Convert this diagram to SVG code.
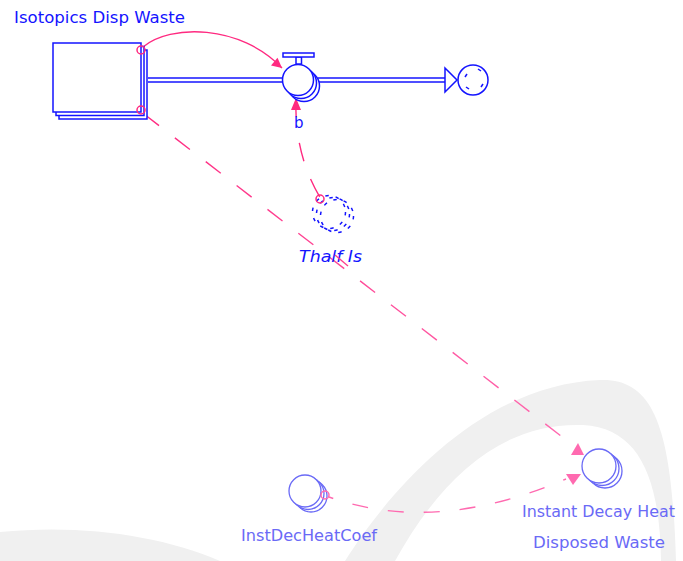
<svg xmlns="http://www.w3.org/2000/svg" width="683" height="561" viewBox="0 0 683 561">
  <defs>
    <style>
      .lbl { font-family: "DejaVu Sans", "Liberation Sans", sans-serif; font-size: 15px; }
      .blue { fill: #1414ff; }
      .pale { fill: #6a6af6; }
      .box { fill: #ffffff; stroke: #1414ff; stroke-width: 1.5; }
      .conv { fill: #ffffff; stroke: #6a6af6; stroke-width: 1.3; }
      .ghost { fill: none; stroke: #1414ff; stroke-width: 1.5; stroke-dasharray: 3.5 7; }
      .pipe { stroke: #1414ff; stroke-width: 1.5; fill: none; }
      .link { fill: none; stroke: #ff2a80; stroke-width: 1.4; }
      .link-pale { fill: none; stroke: #ff6ab0; stroke-width: 1.4; }
      .origin { fill: none; stroke: #ff2a80; stroke-width: 1.5; }
      .head { fill: #ff2a80; }
      .head-pale { fill: #ff6ab0; }
    </style>
    <linearGradient id="fadeLink" gradientUnits="userSpaceOnUse" x1="144" y1="114" x2="570" y2="443">
      <stop offset="0" stop-color="#ff2a80"/>
      <stop offset="1" stop-color="#ff6ab0"/>
    </linearGradient>
  </defs>

  <rect width="683" height="561" fill="#ffffff"/>

  <!-- faint background emblem -->
  <g id="backdrop" fill="#f0f0f0">
    <path d="M345,561 C390,490 480,385 600,380 C655,378 672,430 676,561 L661,561 C660,480 640,428 583,425 C500,422 440,480 395,561 Z"/>
    <path d="M0,532 C80,524 160,535 220,561 L0,561 Z"/>
  </g>

  <!-- connectors -->
  <g id="connectors">
    <!-- stock to valve -->
    <path class="link" d="M143,47 C170,24 240,24 282,68"/>
    <polygon class="head" points="282,68 271,65.6 277.5,57.8"/>
    <!-- Thalf Is to valve -->
    <path class="link" d="M296,98 Q294,155 321,199" stroke-dasharray="19 26 19 19 20 60"/>
    <polygon class="head" points="296,98 291,110 301,110"/>
    <!-- stock to Instant Decay Heat -->
    <path fill="none" stroke="url(#fadeLink)" stroke-width="1.4" stroke-dasharray="19 20" d="M144,114 L570,443"/>
    <polygon class="head-pale" points="578,443 571,455 584,455"/>
    <!-- InstDecHeatCoef to Instant Decay Heat -->
    <path class="link-pale" d="M329,497 Q435,535 566,479" stroke-dasharray="16 20" stroke-dashoffset="11.5"/>
    <polygon class="head-pale" points="566,474 581,474 573,485"/>
  </g>

  <!-- stock -->
  <g id="stock-isotopics-disp-waste">
    <rect class="box" x="59" y="50" width="88" height="69"/>
    <rect class="box" x="56" y="46.5" width="88" height="69"/>
    <rect class="box" x="53" y="43" width="88" height="69"/>
    <text class="lbl blue" x="14" y="23" textLength="171" lengthAdjust="spacingAndGlyphs">Isotopics Disp Waste</text>
    <circle class="origin" cx="141" cy="50" r="4"/>
    <circle class="origin" cx="141" cy="110" r="4"/>
  </g>

  <!-- flow b -->
  <g id="flow-b">
    <line class="pipe" x1="148" y1="78" x2="284" y2="78"/>
    <line class="pipe" x1="148" y1="82" x2="284" y2="82"/>
    <line class="pipe" x1="318" y1="78" x2="446" y2="78"/>
    <line class="pipe" x1="318" y1="82" x2="446" y2="82"/>
    <polygon points="445,68 457,80 445,92" fill="#ffffff" stroke="#1414ff" stroke-width="1.5"/>
    <circle class="box" cx="304" cy="86" r="15.5"/>
    <circle class="box" cx="301" cy="83" r="15.5"/>
    <circle class="box" cx="298" cy="80" r="15.5"/>
    <rect class="box" x="296" y="57" width="5.5" height="7"/>
    <rect class="box" x="283" y="53" width="31" height="4"/>
    <text class="lbl blue" x="294" y="128">b</text>
  </g>

  <!-- cloud sink -->
  <g id="cloud-sink">
    <circle class="box" cx="473" cy="80" r="15"/>
    <g fill="none" stroke="#1414ff" stroke-width="1.5">
      <path d="M465,77 L467,74"/>
      <path d="M478,69 L481,71"/>
      <path d="M483,84 L481,87"/>
      <path d="M469,89 L466,87"/>
    </g>
  </g>

  <!-- Thalf Is (ghost converter) -->
  <g id="thalf-is">
    <circle class="ghost" cx="337" cy="216" r="16.5"/>
    <circle class="ghost" cx="333" cy="214" r="16.5"/>
    <circle class="ghost" cx="329" cy="212" r="16.5"/>
    <circle class="origin" cx="320" cy="199" r="4"/>
    <text class="lbl blue" x="299" y="262" font-style="italic" textLength="63" lengthAdjust="spacingAndGlyphs">Thalf Is</text>
    <line x1="335" y1="255" x2="348" y2="266" stroke="#ff3d8c" stroke-width="1.3"/>
  </g>

  <!-- InstDecHeatCoef -->
  <g id="instdecheatcoef">
    <circle class="conv" cx="311" cy="496" r="16"/>
    <circle class="conv" cx="308" cy="493.5" r="16"/>
    <circle class="conv" cx="305" cy="491" r="16"/>
    <circle cx="325" cy="495" r="4" fill="none" stroke="#ff6ab0" stroke-width="1.5"/>
    <text class="lbl pale" x="241" y="541" textLength="136" lengthAdjust="spacingAndGlyphs">InstDecHeatCoef</text>
  </g>

  <!-- Instant Decay Heat Disposed Waste -->
  <g id="instant-decay-heat-disposed-waste">
    <circle class="conv" cx="605" cy="471" r="17"/>
    <circle class="conv" cx="602" cy="468.5" r="17"/>
    <circle class="conv" cx="599" cy="466" r="17"/>
    <text class="lbl pale" x="522" y="517" textLength="153" lengthAdjust="spacingAndGlyphs">Instant Decay Heat</text>
    <text class="lbl pale" x="533" y="548" textLength="132" lengthAdjust="spacingAndGlyphs">Disposed Waste</text>
  </g>
</svg>
